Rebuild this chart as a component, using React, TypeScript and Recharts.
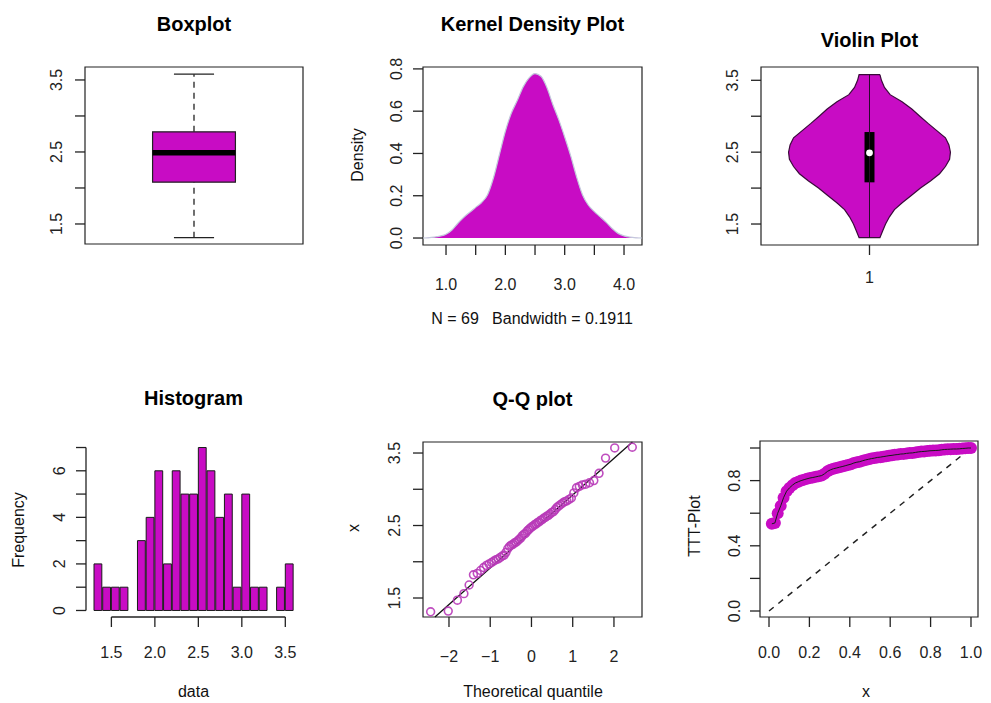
import React from "react";
import {
  ComposedChart,
  XAxis,
  YAxis,
  Area,
  Line,
  Bar,
  Scatter,
  ReferenceArea,
  ReferenceLine,
  ReferenceDot,
} from "recharts";

const W = 991;
const H = 703;
const MAG = "#C80CC4";
const INK = "#222222";
const FONT = "'Liberation Sans', Arial, Helvetica, sans-serif";
const TICK = 10;

// five number summary: min, lower hinge, median, upper hinge, max
const boxFive = [1.31, 2.08, 2.49, 2.78, 3.58];

// kernel density estimate
const kdeX = [
  0.6, 0.7, 0.8, 0.9, 1.0, 1.1, 1.2, 1.3, 1.4, 1.5, 1.6, 1.7, 1.8, 1.9, 2.0, 2.1, 2.2, 2.3, 2.4,
  2.5, 2.6, 2.7, 2.8, 2.9, 3.0, 3.1, 3.2, 3.3, 3.4, 3.5, 3.6, 3.7, 3.8, 3.9, 4.0, 4.1, 4.2, 4.3,
];
const kdeY = [
  0.0, 0.001, 0.004, 0.009, 0.018, 0.038, 0.07, 0.098, 0.122, 0.145, 0.168, 0.205, 0.285, 0.395,
  0.505, 0.59, 0.65, 0.715, 0.758, 0.778, 0.765, 0.712, 0.632, 0.56, 0.478, 0.39, 0.29, 0.205,
  0.155, 0.125, 0.1, 0.074, 0.045, 0.022, 0.01, 0.004, 0.001, 0.0,
];

// violin outline: value levels and half widths (x units)
const violinY = [
  3.58, 3.5, 3.4, 3.3, 3.2, 3.1, 3.0, 2.9, 2.8, 2.7, 2.6, 2.5, 2.4, 2.3, 2.2, 2.1, 2.0, 1.9, 1.8,
  1.7, 1.6, 1.5, 1.4, 1.31,
];
const violinHalf = [
  0.048, 0.055, 0.069, 0.095, 0.15, 0.195, 0.232, 0.27, 0.31, 0.35, 0.366, 0.373, 0.369, 0.35,
  0.323, 0.281, 0.235, 0.194, 0.152, 0.115, 0.092, 0.074, 0.06, 0.048,
];

// histogram, bins of width 0.1 (left edges)
const histStarts = [
  1.3, 1.4, 1.5, 1.6, 1.7, 1.8, 1.9, 2.0, 2.1, 2.2, 2.3, 2.4, 2.5, 2.6, 2.7, 2.8, 2.9, 3.0, 3.1,
  3.2, 3.3, 3.4, 3.5,
];
const histCounts = [2, 1, 1, 1, 0, 3, 4, 6, 2, 6, 5, 5, 7, 6, 4, 5, 1, 5, 1, 1, 0, 1, 2];

// normal Q-Q
const qqTheo = [
  -2.445, -2.018, -1.796, -1.638, -1.512, -1.407, -1.315, -1.234, -1.16, -1.092, -1.027, -0.967,
  -0.911, -0.857, -0.806, -0.757, -0.709, -0.663, -0.618, -0.575, -0.533, -0.491, -0.451, -0.411,
  -0.372, -0.333, -0.295, -0.257, -0.22, -0.183, -0.146, -0.109, -0.073, -0.036, 0, 0.036, 0.073,
  0.109, 0.146, 0.183, 0.22, 0.257, 0.295, 0.333, 0.372, 0.411, 0.451, 0.491, 0.533, 0.575, 0.618,
  0.663, 0.709, 0.757, 0.806, 0.857, 0.911, 0.967, 1.027, 1.092, 1.16, 1.234, 1.315, 1.407, 1.512,
  1.638, 1.796, 2.018, 2.445,
];
const qqSample = [
  1.31, 1.32, 1.47, 1.56, 1.68, 1.82, 1.84, 1.88, 1.92, 1.95, 1.97, 1.99, 2.01, 2.03, 2.04, 2.06,
  2.08, 2.09, 2.13, 2.18, 2.21, 2.23, 2.24, 2.26, 2.27, 2.29, 2.31, 2.33, 2.36, 2.38, 2.39, 2.42,
  2.44, 2.46, 2.48, 2.49, 2.51, 2.52, 2.54, 2.55, 2.57, 2.58, 2.6, 2.61, 2.63, 2.64, 2.66, 2.68,
  2.69, 2.72, 2.75, 2.77, 2.79, 2.81, 2.83, 2.84, 2.86, 2.88, 2.95, 3.02, 3.04, 3.06, 3.07, 3.09,
  3.12, 3.22, 3.43, 3.57, 3.58,
];
const qqLineEnds = [
  [-2.341, 1.238],
  [2.448, 3.652],
];

// scaled TTT transform
const tttX = [
  0.014, 0.029, 0.043, 0.058, 0.072, 0.087, 0.101, 0.116, 0.13, 0.145, 0.159, 0.174, 0.188, 0.203,
  0.217, 0.232, 0.246, 0.261, 0.275, 0.29, 0.304, 0.319, 0.333, 0.348, 0.362, 0.377, 0.391, 0.406,
  0.42, 0.435, 0.449, 0.464, 0.478, 0.493, 0.507, 0.522, 0.536, 0.551, 0.565, 0.58, 0.594, 0.609,
  0.623, 0.638, 0.652, 0.667, 0.681, 0.696, 0.71, 0.725, 0.739, 0.754, 0.768, 0.783, 0.797, 0.812,
  0.826, 0.841, 0.855, 0.87, 0.884, 0.899, 0.913, 0.928, 0.942, 0.957, 0.971, 0.986, 1.0,
];
const tttY = [
  0.535, 0.54, 0.6, 0.645, 0.695, 0.735, 0.755, 0.772, 0.785, 0.793, 0.8, 0.806, 0.811, 0.816,
  0.819, 0.823, 0.827, 0.831, 0.842, 0.857, 0.866, 0.873, 0.877, 0.882, 0.886, 0.891, 0.896, 0.901,
  0.908, 0.913, 0.916, 0.922, 0.927, 0.931, 0.935, 0.938, 0.942, 0.944, 0.947, 0.95, 0.953, 0.955,
  0.958, 0.96, 0.963, 0.964, 0.967, 0.969, 0.97, 0.973, 0.976, 0.978, 0.979, 0.981, 0.983, 0.984,
  0.985, 0.986, 0.989, 0.991, 0.992, 0.993, 0.994, 0.994, 0.995, 0.997, 0.998, 1.0, 1.0,
];

const boxRows = boxFive.map((y) => ({ x: 1, y }));
const kdeRows = kdeX.map((x, i) => ({ x, d: kdeY[i] }));
// bars sit on the numeric axis at the bin centres
const histRows = histStarts.map((s, i) => ({ mid: Math.round((s + 0.05) * 100) / 100, count: histCounts[i] }));
const qqRows = qqTheo.map((x, i) => ({ x, y: qqSample[i] }));
const tttRows = tttX.map((x, i) => ({ x, y: tttY[i] }));
const violinOutline = [
  ...violinY.map((y, i) => ({ x: 1 + violinHalf[i], y })),
  ...violinY.map((y, i) => ({ x: 1 - violinHalf[i], y })).reverse(),
];
violinOutline.push(violinOutline[0]);

type Box = { l: number; t: number; r: number; b: number };
const B1: Box = { l: 85, t: 67, r: 303, b: 244 };
const B2: Box = { l: 423, t: 67, r: 642, b: 245 };
const B3: Box = { l: 761, t: 67, r: 978, b: 245 };
const B4: Box = { l: 86, t: 441, r: 302, b: 617 };
const B5: Box = { l: 423, t: 442, r: 642, b: 617 };
const B6: Box = { l: 760, t: 441, r: 978, b: 617 };

// every layer carries one 1px-wide y axis and one 1px-high x axis
const marginOf = (b: Box) => ({ left: b.l - 1, top: b.t, right: W - b.r, bottom: H - b.b - 1 });

const f1 = (v: number) => v.toFixed(1);
const fMinus = (v: number) => (v < 0 ? "\u2212" + Math.abs(v) : String(v));
const has = (list: number[], v: number) => list.some((s) => Math.abs(s - v) < 1e-9);

// tick renderers draw their own tick mark plus an optional label
function bottomTick(shown: number[], fmt: (v: number) => string, dist: number) {
  return (p: any) => {
    const v = p.payload.value;
    return (
      <g>
        <line x1={p.x} x2={p.x} y1={p.y - TICK} y2={p.y} stroke={INK} strokeWidth={1.3} />
        {has(shown, v) && (
          <text x={p.x} y={p.y - TICK + dist} textAnchor="middle" fontSize={16} fontFamily={FONT} fill="#222">
            {fmt(v)}
          </text>
        )}
      </g>
    );
  };
}

function leftTick(shown: number[], fmt: (v: number) => string, dist: number) {
  return (p: any) => {
    const v = p.payload.value;
    const bx = p.x + TICK - dist;
    return (
      <g>
        <line x1={p.x} x2={p.x + TICK} y1={p.y} y2={p.y} stroke={INK} strokeWidth={1.3} />
        {has(shown, v) && (
          <text
            x={bx}
            y={p.y}
            transform={`rotate(-90 ${bx} ${p.y})`}
            textAnchor="middle"
            fontSize={16}
            fontFamily={FONT}
            fill="#222"
          >
            {fmt(v)}
          </text>
        )}
      </g>
    );
  };
}

const axisBits = {
  axisLine: false,
  tickLine: false,
  tickSize: TICK,
  tickMargin: 0,
  interval: 0 as const,
  allowDataOverflow: true,
};

const quiet = { tick: false, tickLine: false, axisLine: false, allowDataOverflow: true };

function Layer({ box, children, ...rest }: any) {
  return (
    <div style={{ position: "absolute", left: 0, top: 0 }}>
      <ComposedChart width={W} height={H} margin={marginOf(box)} {...rest}>
        {children}
      </ComposedChart>
    </div>
  );
}

const frameProps = (xd: number[], yd: number[]) => ({
  x1: xd[0],
  x2: xd[1],
  y1: yd[0],
  y2: yd[1],
  fill: "none",
  fillOpacity: 0,
  stroke: INK,
  strokeWidth: 1.2,
  ifOverflow: "visible" as const,
});

const ticks15 = [1.5, 2, 2.5, 3, 3.5];
const lab15 = [1.5, 2.5, 3.5];

function BoxplotPanel() {
  const xd = [0.5, 1.5];
  const yd = [1.222, 3.68];
  const [mn, q1, md, q3, mx] = boxFive;
  const hw = 0.19;
  const cap = 0.092;
  return (
    <>
      <Layer box={B1} data={boxRows}>
        <XAxis type="number" dataKey="x" domain={xd} height={1} {...quiet} />
        <YAxis type="number" dataKey="y" domain={yd} ticks={ticks15} width={1} {...axisBits} tick={leftTick(lab15, f1, 23)} />
        <ReferenceArea x1={1 - hw} x2={1 + hw} y1={q1} y2={q3} fill={MAG} fillOpacity={1} stroke={INK} strokeWidth={1.2} />
      </Layer>
      <Layer box={B1} data={boxRows}>
        <XAxis type="number" dataKey="x" domain={xd} height={1} {...quiet} />
        <YAxis type="number" dataKey="y" domain={yd} width={1} {...quiet} />
        <ReferenceLine segment={[{ x: 1, y: q3 }, { x: 1, y: mx }]} stroke={INK} strokeWidth={1.3} strokeDasharray="6 5" />
        <ReferenceLine segment={[{ x: 1, y: mn }, { x: 1, y: q1 }]} stroke={INK} strokeWidth={1.3} strokeDasharray="6 5" />
        <ReferenceLine segment={[{ x: 1 - cap, y: mx }, { x: 1 + cap, y: mx }]} stroke={INK} strokeWidth={1.3} />
        <ReferenceLine segment={[{ x: 1 - cap, y: mn }, { x: 1 + cap, y: mn }]} stroke={INK} strokeWidth={1.3} />
        <ReferenceLine segment={[{ x: 1 - hw, y: md }, { x: 1 + hw, y: md }]} stroke="#000" strokeWidth={5.5} />
        <ReferenceArea {...frameProps(xd, yd)} />
      </Layer>
    </>
  );
}

function KdePanel() {
  const xd = [0.612, 4.303];
  const yd = [-0.033, 0.809];
  return (
    <Layer box={B2} data={kdeRows}>
      <XAxis
        type="number"
        dataKey="x"
        domain={xd}
        ticks={[1, 1.5, 2, 2.5, 3, 3.5, 4]}
        height={1}
        {...axisBits}
        tick={bottomTick([1, 2, 3, 4], f1, 45)}
      />
      <YAxis
        type="number"
        dataKey="d"
        domain={yd}
        ticks={[0, 0.2, 0.4, 0.6, 0.8]}
        width={1}
        {...axisBits}
        tick={leftTick([0, 0.2, 0.4, 0.6, 0.8], f1, 21)}
      />
      <Area type="monotone" dataKey="d" fill={MAG} fillOpacity={1} stroke="none" isAnimationActive={false} />
      <Line type="monotone" dataKey="d" stroke="#c3c9dc" strokeWidth={1.2} dot={false} isAnimationActive={false} />
      <ReferenceArea {...frameProps(xd, yd)} />
    </Layer>
  );
}

function ViolinPanel() {
  const xd = [0.5, 1.5];
  const yd = [1.208, 3.685];
  const [mn, q1, md, q3, mx] = boxFive;
  return (
    <>
      <Layer box={B3} data={violinOutline}>
        <XAxis type="number" dataKey="x" domain={xd} ticks={[1]} height={1} {...axisBits} tick={bottomTick([1], String, 38)} />
        <YAxis type="number" dataKey="y" domain={yd} ticks={ticks15} width={1} {...axisBits} tick={leftTick(lab15, f1, 23)} />
        <Scatter
          data={violinOutline}
          fill={MAG}
          shape={() => <g />}
          line={{ fill: MAG, stroke: "#3a0a3a", strokeWidth: 1.2 }}
          lineType="joint"
          lineJointType="linear"
          isAnimationActive={false}
        />
      </Layer>
      <Layer box={B3} data={boxRows}>
        <XAxis type="number" dataKey="x" domain={xd} height={1} {...quiet} />
        <YAxis type="number" dataKey="y" domain={yd} width={1} {...quiet} />
        <ReferenceLine segment={[{ x: 1, y: mn }, { x: 1, y: mx }]} stroke="#2a0a2a" strokeWidth={1} />
        <ReferenceArea x1={0.977} x2={1.023} y1={q1} y2={q3} fill="#000" fillOpacity={1} stroke="none" />
        <ReferenceDot x={1} y={md} r={3.4} fill="#fff" stroke="none" />
        <ReferenceArea {...frameProps(xd, yd)} />
      </Layer>
    </>
  );
}

function HistogramPanel() {
  const xd = [1.208, 3.692];
  const yd = [-0.28, 7.28];
  return (
    <Layer box={B4} data={histRows} barCategoryGap={0} barGap={0}>
      <XAxis
        dataKey="mid"
        type="number"
        domain={xd}
        ticks={ticks15}
        height={1}
        {...axisBits}
        tick={bottomTick(ticks15, f1, 41)}
      />
      <YAxis
        type="number"
        dataKey="count"
        domain={yd}
        ticks={[0, 1, 2, 3, 4, 5, 6, 7]}
        width={1}
        {...axisBits}
        tick={leftTick([0, 2, 4, 6], String, 21)}
      />
      <Bar dataKey="count" barSize={8.7} fill={MAG} stroke="#1a1a1a" strokeWidth={1} isAnimationActive={false} />
      {/* R draws the axis lines only from the first to the last tick */}
      <ReferenceLine
        segment={[{ x: xd[0], y: 0 }, { x: xd[0], y: 7 }]}
        stroke={INK}
        strokeWidth={1.3}
        ifOverflow="visible"
      />
      <ReferenceLine
        segment={[{ x: 1.5, y: yd[0] }, { x: 3.5, y: yd[0] }]}
        stroke={INK}
        strokeWidth={1.3}
        ifOverflow="visible"
      />
    </Layer>
  );
}

function QQPanel() {
  const xd = [-2.63, 2.68];
  const yd = [1.238, 3.652];
  return (
    <Layer box={B5} data={qqRows}>
      <XAxis
        type="number"
        dataKey="x"
        domain={xd}
        ticks={[-2, -1, 0, 1, 2]}
        height={1}
        {...axisBits}
        tick={bottomTick([-2, -1, 0, 1, 2], fMinus, 45)}
      />
      <YAxis type="number" dataKey="y" domain={yd} ticks={ticks15} width={1} {...axisBits} tick={leftTick(lab15, f1, 23)} />
      <Scatter
        data={qqRows}
        isAnimationActive={false}
        shape={(p: any) => (
          <circle cx={p.cx} cy={p.cy} r={3.9} fill="none" stroke="#B83AB8" strokeOpacity={0.9} strokeWidth={1.6} />
        )}
      />
      <ReferenceLine
        segment={[
          { x: qqLineEnds[0][0], y: qqLineEnds[0][1] },
          { x: qqLineEnds[1][0], y: qqLineEnds[1][1] },
        ]}
        stroke="#111"
        strokeWidth={1.3}
        ifOverflow="visible"
      />
      <ReferenceArea {...frameProps(xd, yd)} />
    </Layer>
  );
}

function TTTPanel() {
  const xd = [-0.0446, 1.0347];
  const yd = [-0.0368, 1.043];
  const xt = [0, 0.2, 0.4, 0.6, 0.8, 1];
  return (
    <>
      <Layer box={B6} data={tttRows}>
        <XAxis type="number" dataKey="x" domain={xd} ticks={xt} height={1} {...axisBits} tick={bottomTick(xt, f1, 41)} />
        <YAxis
          type="number"
          dataKey="y"
          domain={yd}
          ticks={[0, 0.2, 0.4, 0.6, 0.8, 1]}
          width={1}
          {...axisBits}
          tick={leftTick([0, 0.4, 0.8], f1, 20)}
        />
        <ReferenceLine segment={[{ x: 0, y: 0 }, { x: 1, y: 1 }]} stroke={INK} strokeWidth={1.5} strokeDasharray="6 6" />
        <Scatter
          data={tttRows}
          isAnimationActive={false}
          shape={(p: any) => <circle cx={p.cx} cy={p.cy} r={6} fill={MAG} />}
        />
        <ReferenceArea {...frameProps(xd, yd)} />
      </Layer>
      <Layer box={B6} data={tttRows}>
        <XAxis type="number" dataKey="x" domain={xd} height={1} {...quiet} />
        <YAxis type="number" dataKey="y" domain={yd} width={1} {...quiet} />
        <Line type="linear" dataKey="y" stroke="#1a1a1a" strokeWidth={1} dot={false} isAnimationActive={false} />
      </Layer>
    </>
  );
}

function Texts() {
  const title = { fontFamily: FONT, fontSize: 20, fontWeight: 700, fill: "#000", textAnchor: "middle" as const };
  const lab = { fontFamily: FONT, fontSize: 16, fill: "#111", textAnchor: "middle" as const };
  const rot = (x: number, y: number) => `rotate(-90 ${x} ${y})`;
  return (
    <svg width={W} height={H} style={{ position: "absolute", left: 0, top: 0, pointerEvents: "none" }}>
      <text x={194} y={31} {...title}>Boxplot</text>
      <text x={532.5} y={31} {...title}>Kernel Density Plot</text>
      <text x={869.5} y={47} {...title}>Violin Plot</text>
      <text x={193.5} y={405} {...title}>Histogram</text>
      <text x={532.5} y={406} {...title}>Q-Q plot</text>

      <text x={363} y={155} transform={rot(363, 155)} {...lab}>Density</text>
      <text x={532} y={324} {...lab} style={{ whiteSpace: "pre" }}>N = 69   Bandwidth = 0.1911</text>
      <text x={24} y={530} transform={rot(24, 530)} {...lab}>Frequency</text>
      <text x={193.5} y={697} {...lab}>data</text>
      <text x={359} y={528} transform={rot(359, 528)} {...lab}>x</text>
      <text x={533} y={697} {...lab}>Theoretical quantile</text>
      <text x={700} y={526} transform={rot(700, 526)} {...lab}>TTT-Plot</text>
      <text x={866} y={697} {...lab}>x</text>
    </svg>
  );
}

export default function App() {
  return (
    <div style={{ position: "absolute", left: 0, top: 0, width: W, height: H, background: "#fff", overflow: "hidden" }}>
      <BoxplotPanel />
      <KdePanel />
      <ViolinPanel />
      <HistogramPanel />
      <QQPanel />
      <TTTPanel />
      <Texts />
    </div>
  );
}
